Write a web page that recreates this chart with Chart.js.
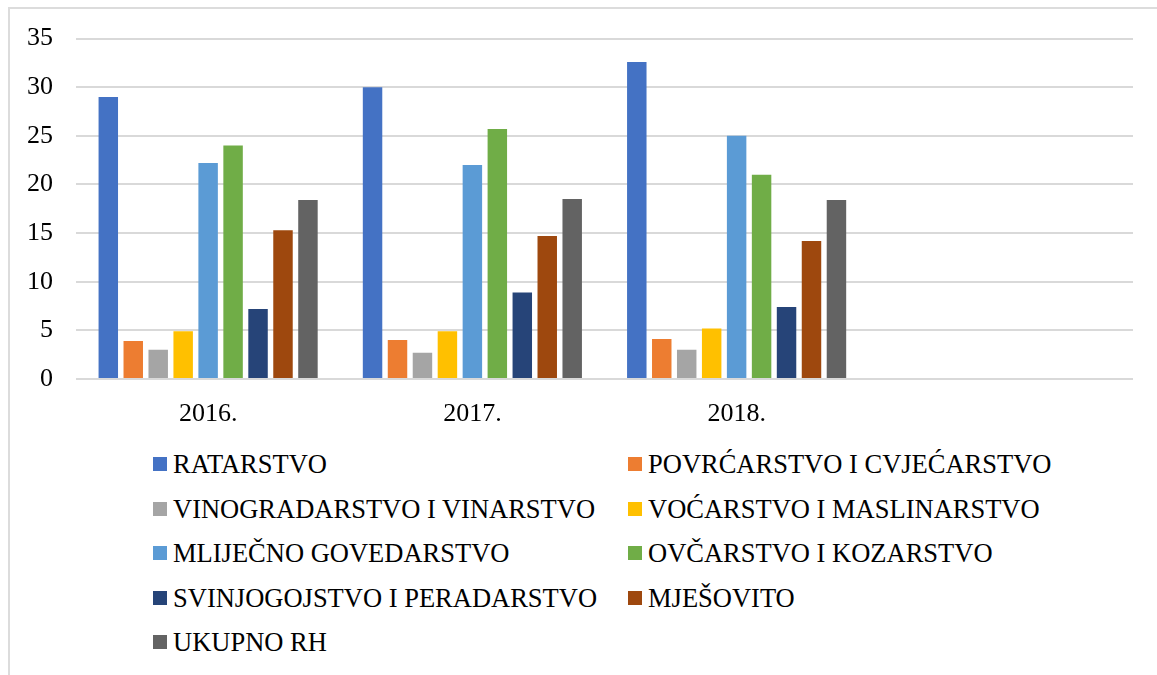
<!DOCTYPE html>
<html>
<head>
<meta charset="utf-8">
<script src="https://cdn.jsdelivr.net/npm/chart.js@4"></script>
<style>
  html, body { margin: 0; padding: 0; background: #fff; }
  #frame {
    position: absolute; left: 8px; top: 7px; width: 1149px; height: 668px;
    border-left: 2px solid #dcdcdc; border-top: 2px solid #dcdcdc;
  }
  #wrap { position: absolute; left: 0; top: 0; width: 1157px; height: 440px; }
  .leg {
    position: absolute; display: flex; align-items: center;
    font-family: "Liberation Serif", "Times New Roman", serif;
    font-size: 26.5px; line-height: 26px; color: #000; white-space: nowrap;
  }
  .leg span.box { width: 14px; height: 14px; margin-right: 6px; display: inline-block; }
</style>
</head>
<body>
<div id="frame"></div>
<div id="wrap"><canvas id="chart"></canvas></div>
<div id="legend"></div>
<script>
// Categories (4th slot is empty in the original)
const categories = ['2016.', '2017.', '2018.', ''];

// Series names and colours
const seriesNames = [
  'RATARSTVO', 'POVRĆARSTVO I CVJEĆARSTVO', 'VINOGRADARSTVO I VINARSTVO',
  'VOĆARSTVO I MASLINARSTVO', 'MLIJEČNO GOVEDARSTVO', 'OVČARSTVO I KOZARSTVO',
  'SVINJOGOJSTVO I PERADARSTVO', 'MJEŠOVITO', 'UKUPNO RH'
];
const seriesColors = [
  '#4472C4', '#ED7D31', '#A5A5A5', '#FFC000', '#5B9BD5',
  '#70AD47', '#264478', '#9E480E', '#636363'
];

// Values per series (2016., 2017., 2018.)
const ratarstvo = [29.0, 30.0, 32.6];
const povrcarstvo = [3.9, 4.0, 4.1];
const vinogradarstvo = [3.0, 2.7, 3.0];
const vocarstvo = [4.9, 4.9, 5.2];
const mlijecno = [22.2, 22.0, 25.0];
const ovcarstvo = [24.0, 25.7, 21.0];
const svinjogojstvo = [7.2, 8.9, 7.4];
const mjesovito = [15.3, 14.7, 14.2];
const ukupnoRH = [18.4, 18.5, 18.4];

const seriesValues = [
  ratarstvo, povrcarstvo, vinogradarstvo, vocarstvo, mlijecno,
  ovcarstvo, svinjogojstvo, mjesovito, ukupnoRH
];

const yTicks = [0, 5, 10, 15, 20, 25, 30, 35];

const fontFamily = '"Liberation Serif", "Times New Roman", serif';

function buildDatasets() {
  return seriesNames.map((name, i) => ({
    label: name,
    data: seriesValues[i],
    backgroundColor: seriesColors[i],
    borderWidth: 0,
    barPercentage: 0.78,
    categoryPercentage: 0.85,
  }));
}

function buildLegend() {
  const legend = document.getElementById('legend');
  const rowCenters = [464, 509, 553, 598, 642];
  const colBox = [153, 628];
  seriesNames.forEach((name, i) => {
    const row = Math.floor(i / 2);
    const col = i % 2;
    const item = document.createElement('div');
    item.className = 'leg';
    item.style.left = colBox[col] + 'px';
    item.style.top = (rowCenters[row] - 13) + 'px';
    const box = document.createElement('span');
    box.className = 'box';
    box.style.backgroundColor = seriesColors[i];
    item.appendChild(box);
    item.appendChild(document.createTextNode(name));
    legend.appendChild(item);
  });
}

function init() {
  const ctx = document.getElementById('chart').getContext('2d');
  new Chart(ctx, {
    type: 'bar',
    data: { labels: categories, datasets: buildDatasets() },
    options: {
      responsive: true,
      maintainAspectRatio: false,
      animation: false,
      layout: { padding: { left: 0, right: 24, top: 37, bottom: 0 } },
      plugins: { legend: { display: false }, tooltip: { enabled: false } },
      scales: {
        x: {
          grid: { display: false, drawTicks: false },
          border: { display: false },
          ticks: {
            color: '#000', padding: 20,
            font: { family: fontFamily, size: 26 },
            maxRotation: 0,
          },
          afterFit: scale => { scale.height = 61; },
        },
        y: {
          min: 0, max: 35,
          afterBuildTicks: scale => { scale.ticks = yTicks.map(v => ({ value: v })); },
          grid: { color: '#d9d9d9', lineWidth: 2, drawTicks: false },
          border: { display: false },
          ticks: {
            color: '#000', padding: 23,
            font: { family: fontFamily, size: 26 },
          },
          afterFit: scale => { scale.width = 76; },
        }
      }
    }
  });
  buildLegend();
}

window.onload = init;
</script>
</body>
</html>
